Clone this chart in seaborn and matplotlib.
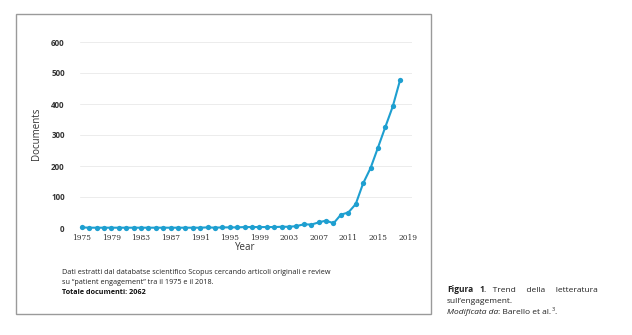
import matplotlib
matplotlib.use("Agg")
import matplotlib.pyplot as plt
import seaborn as sns
import pandas as pd
from matplotlib.patches import Rectangle

years = list(range(1975, 2019))
documents = [2, 1, 1, 1, 1, 1, 1, 1, 1, 1, 1, 1, 1, 1, 1, 1, 1, 2, 1, 2,
             2, 2, 3, 3, 3, 3, 3, 4, 4, 6, 12, 11, 18, 24, 15, 43, 50, 77,
             144, 193, 259, 326, 392, 478]
xticks = list(range(1975, 2020, 4))
yticks = [0, 100, 200, 300, 400, 500, 600]

df = pd.DataFrame({"Year": years, "Documents": documents})

sns.set_theme(style="white")
plt.rcParams["font.family"] = ["Open Sans", "DejaVu Sans"]

fig = plt.figure(figsize=(6.32, 3.35), dpi=100)
fig.patch.set_facecolor("white")

ax = fig.add_axes([80/632, 107/335, 332/632, 186/335])
ax.set_xlim(1974.77, 2019.6)
ax.set_ylim(0, 600)
for y in yticks:
    ax.axhline(y, color="#ececec", lw=0.7, zorder=0)

sns.lineplot(data=df, x="Year", y="Documents", ax=ax, color="#1e9fd0",
             lw=1.5, marker="o", markersize=3.8, markeredgewidth=0,
             clip_on=False, zorder=3)

for s in ax.spines.values():
    s.set_visible(False)
ax.set_xticks(xticks)
ax.set_xticklabels([str(t) for t in xticks], family="DejaVu Serif",
                   fontsize=5.4, color="#333333")
ax.set_yticks(yticks)
ax.set_yticklabels([str(t) for t in yticks], fontsize=5.8,
                   color="#333333", fontweight="bold")
ax.tick_params(axis="both", length=0, pad=4)
ax.tick_params(axis="y", pad=11)
ax.set_xlabel("")
ax.set_ylabel("")

fig.text(37/632, 1 - 134/335, "Documents", rotation=90, ha="center",
         va="center", fontsize=7, color="#333333")
fig.text(245/632, 1 - 248/335, "Year", ha="center", va="center",
         fontsize=7, color="#333333")

fs_note = 5.2
fig.text(62/632, 1 - 272/335,
         "Dati estratti dal databatse scientifico Scopus cercando articoli originali e review",
         ha="left", va="center", fontsize=fs_note, color="#222222")
fig.text(62/632, 1 - 282/335,
         "su \u201cpatient engagement\u201d tra il 1975 e il 2018.",
         ha="left", va="center", fontsize=fs_note, color="#222222")
fig.text(62/632, 1 - 293/335, "Totale documenti: 2062",
         ha="left", va="center", fontsize=fs_note, color="#111111",
         fontweight="bold")

fig.patches.append(Rectangle((16/632, 21/335), 415/632, 300/335,
                             transform=fig.transFigure, fill=False,
                             edgecolor="#9a9a9a", lw=1.0))

cap_fam = ["Open Sans", "DejaVu Sans"]
renderer = fig.canvas.get_renderer()


def run(x_px, y_px, parts):
    x = x_px
    for txt, kw in parts:
        opts = dict(ha="left", va="baseline", fontsize=6, family=cap_fam,
                    color="#222222")
        opts.update(kw)
        yy = y_px - opts.pop("rise", 0)
        t = fig.text(x / 632, 1 - yy / 335, txt, **opts)
        bb = t.get_window_extent(renderer=renderer)
        x += bb.width
    return x


run(447, 292, [("Figura", {"fontweight": "bold"}),
               ("   ", {}), ("1", {"fontweight": "bold"}),
               (".   Trend     della     letteratura", {})])
run(447, 303, [("sull\u2019engagement.", {})])
run(447, 314, [("Modificata da", {"style": "italic"}),
               (": Barello et al.", {}),
               ("3", {"fontsize": 4, "rise": 3}),
               (".", {})])

fig.savefig("out.png", dpi=100, facecolor="white")
